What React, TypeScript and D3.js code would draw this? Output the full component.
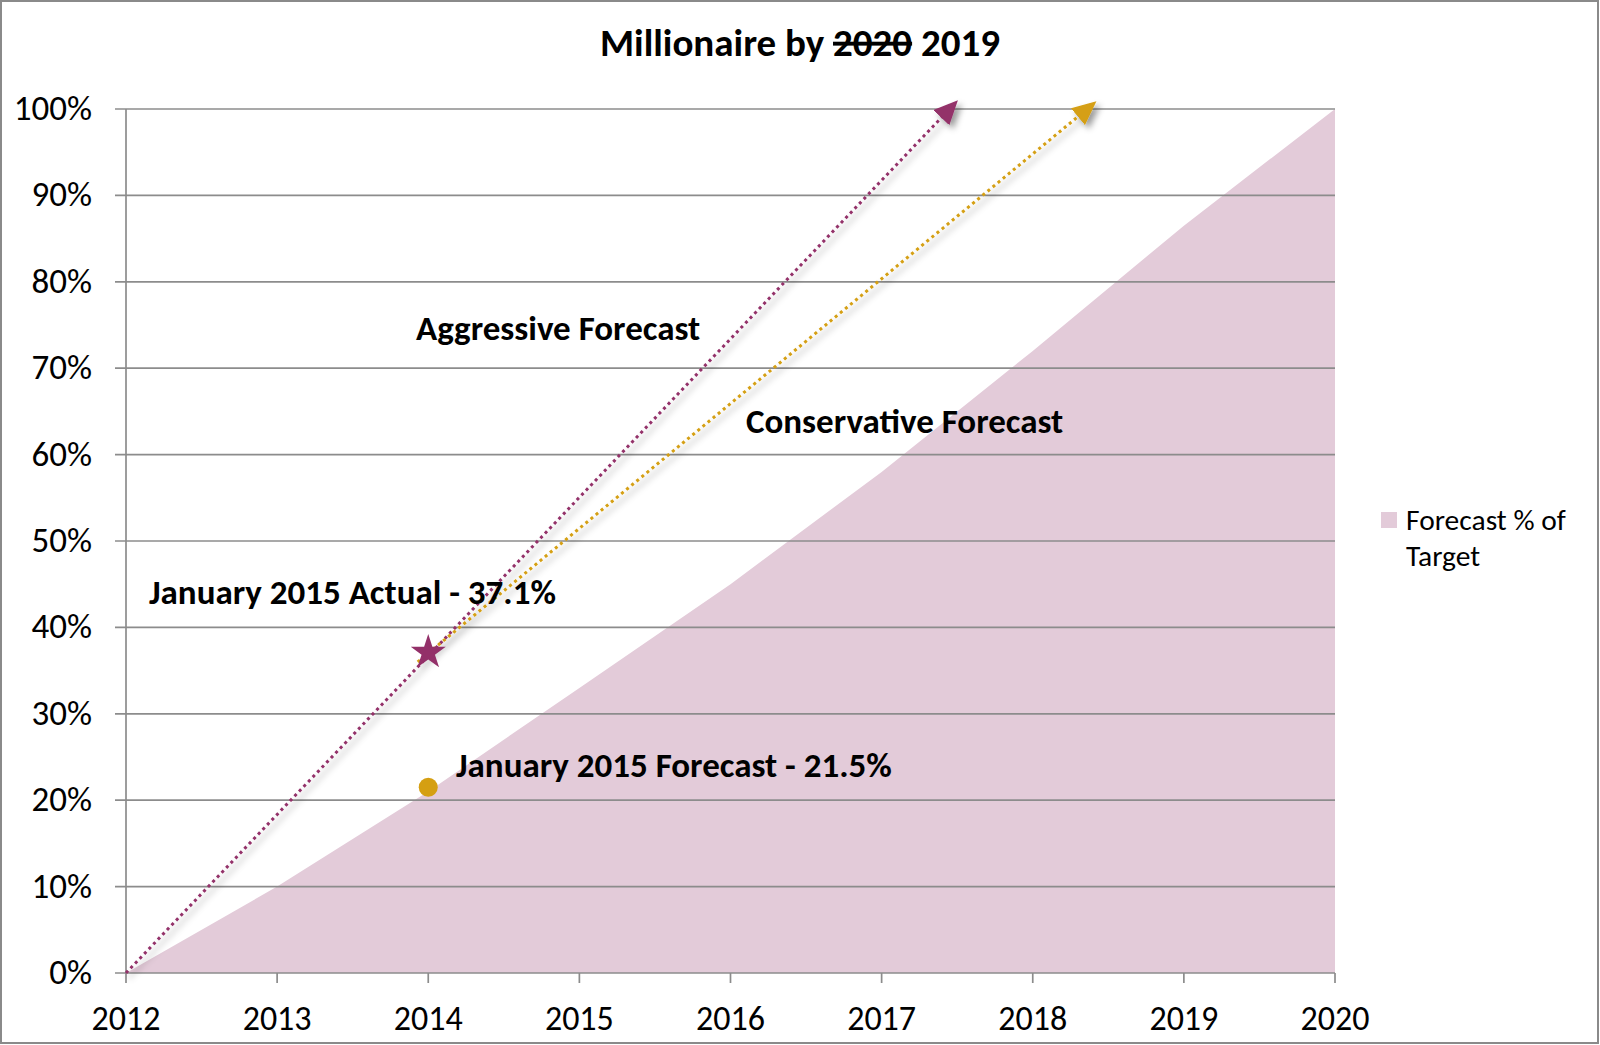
import * as d3 from 'd3'
import React from 'react'

const years = [2012, 2013, 2014, 2015, 2016, 2017, 2018, 2019, 2020]
const forecastPct = [0, 0.1, 0.21, 0.33, 0.45, 0.58, 0.72, 0.865, 1.0]
const yTicks = [0, 0.1, 0.2, 0.3, 0.4, 0.5, 0.6, 0.7, 0.8, 0.9, 1.0]

// forecast arrows: [year, pct] start -> end
const aggressiveLine: [number, number][] = [
  [2012, 0],
  [2017.45, 1.0],
]
const conservativeLine: [number, number][] = [
  [2013.93, 0.36],
  [2018.36, 1.0],
]
const actualPoint: [number, number] = [2014, 0.371]
const forecastPoint: [number, number] = [2014, 0.215]

const W = 1600
const H = 1045
const plot = { left: 126, right: 1335, top: 109, bottom: 973 }

const plum = '#933069'
const gold = '#d59f12'
const areaFill = '#e3cbd9'
const gridColor = '#8c8c8c'
const font = 'Carlito, Lato, "Open Sans", sans-serif'

const App = () => {
  const x = d3.scaleLinear().domain([2012, 2020]).range([plot.left, plot.right])
  const y = d3.scaleLinear().domain([0, 1]).range([plot.bottom, plot.top])

  const area = d3
    .area<number>()
    .x((_, i) => x(years[i]))
    .y0(y(0))
    .y1((d) => y(d))
  const line = d3
    .line<[number, number]>()
    .x((d) => x(d[0]))
    .y((d) => y(d[1]))

  const star = d3.symbol().type(d3.symbolStar).size(380)()

  return (
    <div style={{ position: 'absolute', left: 0, top: 0 }}>
      <svg width={W} height={H} style={{ display: 'block', background: '#fff' }}>
        <defs>
          <filter id="shadow" x="-10%" y="-10%" width="130%" height="130%">
            <feDropShadow dx="4" dy="4" stdDeviation="3" floodColor="#000" floodOpacity="0.4" />
          </filter>
          <marker id="headPlum" viewBox="0 0 24 22" refX="12" refY="11" markerWidth="24" markerHeight="22"
            markerUnits="userSpaceOnUse" orient="auto">
            <path d="M0,0 L24,11 L0,22 Z" fill={plum} />
          </marker>
          <marker id="headGold" viewBox="0 0 24 22" refX="12" refY="11" markerWidth="24" markerHeight="22"
            markerUnits="userSpaceOnUse" orient="auto">
            <path d="M0,0 L24,11 L0,22 Z" fill={gold} />
          </marker>
        </defs>

        <rect x={1} y={1} width={W - 3} height={H - 3} fill="none" stroke="#8a8a8a" strokeWidth={2} />

        <text x={W / 2} y={56} textAnchor="middle" fontFamily={font} fontWeight="bold" fontSize={39} fill="#000">
          <tspan>Millionaire by </tspan>
          <tspan style={{ textDecoration: 'line-through' }}>2020</tspan>
          <tspan> 2019</tspan>
        </text>

        {/* area */}
        <path d={area(forecastPct) ?? ''} fill={areaFill} />

        {/* gridlines + y ticks */}
        {yTicks.map((t) => (
          <g key={t}>
            <line x1={plot.left - 11} x2={plot.right} y1={y(t)} y2={y(t)} stroke={gridColor} strokeWidth={1.7} />
            <text x={92} y={y(t) + 11} textAnchor="end" fontFamily={font} fontSize={35} fill="#000">
              {d3.format('.0%')(t)}
            </text>
          </g>
        ))}
        <line x1={plot.left} x2={plot.left} y1={plot.top} y2={plot.bottom} stroke={gridColor} strokeWidth={1.7} />

        {/* x ticks */}
        {years.map((yr) => (
          <g key={yr}>
            <line x1={x(yr)} x2={x(yr)} y1={plot.bottom} y2={plot.bottom + 10} stroke={gridColor} strokeWidth={1.7} />
            <text x={x(yr)} y={1030} textAnchor="middle" fontFamily={font} fontSize={34} fill="#000">
              {yr}
            </text>
          </g>
        ))}

        {/* forecast arrows */}
        <g filter="url(#shadow)">
          <path d={line(aggressiveLine) ?? ''} fill="none" stroke={plum} strokeWidth={3}
            strokeDasharray="3 3.6" markerEnd="url(#headPlum)" />
          <path d={line(conservativeLine) ?? ''} fill="none" stroke={gold} strokeWidth={3}
            strokeDasharray="3 3.6" markerEnd="url(#headGold)" />
        </g>

        <path d={star ?? ''} transform={`translate(${x(actualPoint[0])},${y(actualPoint[1])})`} fill={plum} />
        <circle cx={x(forecastPoint[0])} cy={y(forecastPoint[1])} r={9.5} fill={gold} />

        {/* annotations */}
        <g fontFamily={font} fontWeight="bold" fontSize={35} fill="#000">
          <text x={416} y={340}>Aggressive Forecast</text>
          <text x={746} y={433}>Conservative Forecast</text>
          <text x={149} y={604}>January 2015 Actual - 37.1%</text>
          <text x={456} y={777}>January 2015 Forecast - 21.5%</text>
        </g>

        {/* legend */}
        <rect x={1381} y={512} width={16} height={16} fill={areaFill} />
        <g fontFamily={font} fontSize={29.5} fill="#000">
          <text x={1406} y={530}>Forecast % of</text>
          <text x={1406} y={566}>Target</text>
        </g>
      </svg>
    </div>
  )
}

export default App
